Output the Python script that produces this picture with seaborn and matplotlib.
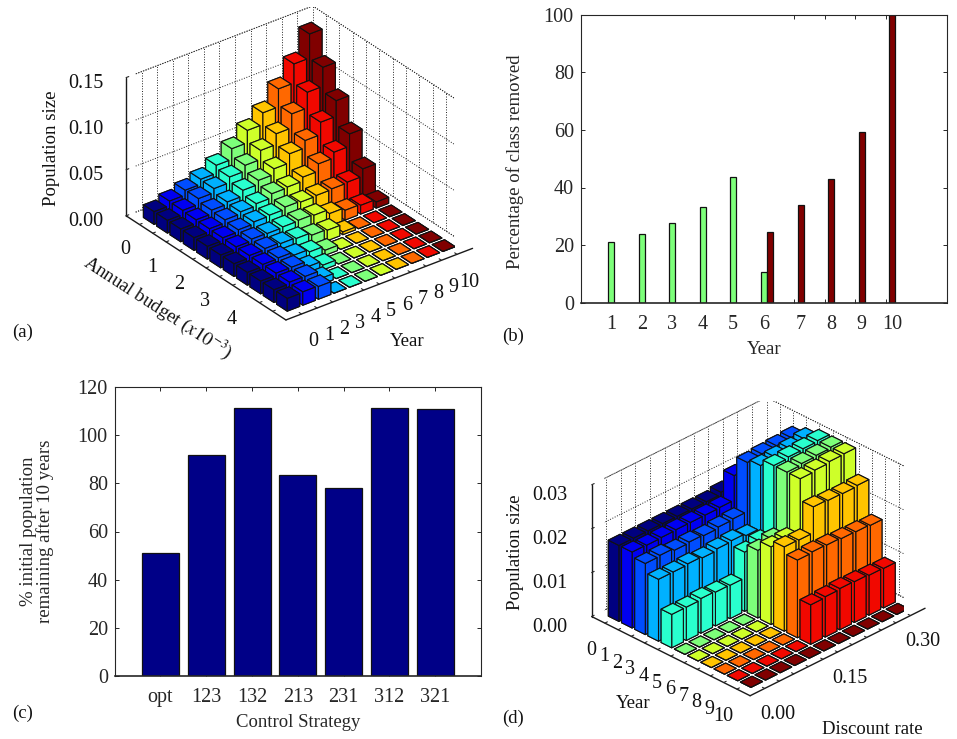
import numpy as np
import seaborn as sns
import matplotlib.pyplot as plt

W, H = 957, 739

# (a) population size, one row per year, one value per budget level
budget = [0, 0.5, 1, 1.5, 2, 2.5, 3, 3.5, 4, 4.5, 5]
budget_labels = ['0', '', '1', '', '2', '', '3', '', '4', '', '']
years = [0, 1, 2, 3, 4, 5, 6, 7, 8, 9, 10]
pop_a = [
    [.0137, .0137, .0137, .0137, .0137, .0137, .0137, .0137, .0137, .0137, .0137],
    [.0188, .0181, .0173, .0170, .0166, .0162, .0162, .0159, .0159, .0155, .0144],
    [.0242, .0245, .0213, .0202, .0188, .0181, .0173, .0166, .0159, .0152, .0137],
    [.0296, .0289, .0238, .0224, .0209, .0177, .0162, .0130, .0097, .0065, 0],
    [.0383, .0350, .0300, .0249, .0217, .0184, .0152, .0101, .0051, 0, 0],
    [.0498, .0412, .0343, .0292, .0242, .0191, .0123, .0054, 0, 0, 0],
    [.0632, .0509, .0404, .0300, .0231, .0181, .0112, 0, 0, 0, 0],
    [.0758, .0625, .0502, .0343, .0238, .0134, .0029, 0, 0, 0, 0],
    [.0953, .0776, .0581, .0422, .0245, .0105, 0, 0, 0, 0, 0],
    [.1159, .0946, .0715, .0484, .0253, .0094, 0, 0, 0, 0, 0],
    [.1419, .1152, .0884, .0617, .0332, .0065, 0, 0, 0, 0, 0],
]

# (b) percentage of class removed
green_years = [1, 2, 3, 4, 5, 6]
green_vals = [21, 23.8, 27.6, 33.4, 43.5, 10.8]
red_years = [6, 7, 8, 9, 10]
red_vals = [24.7, 34, 42.9, 59.4, 100]

# (c) strategies
strategies = ['opt', '123', '132', '213', '231', '312', '321']
remaining = [51, 92, 111.5, 83.5, 78, 111.5, 111]

# (d) population size, one row per year, one value per discount rate
discount = [0, .03, .06, .09, .12, .15, .18, .21, .24, .27, .30]
discount_labels = ['0.00', '', '', '', '', '0.15', '', '', '', '', '0.30']
pop_d = [
    [.0173, .0173, .0173, .0173, .0173, .0173, .0173, .0178, .0178, .0178, .0178],
    [.0173, .0172, .0173, .0174, .0174, .0174, .0175, .0231, .0231, .0231, .0231],
    [.0162, .0164, .0159, .0161, .0159, .0162, .0164, .0276, .0279, .0281, .0283],
    [.0141, .0141, .0143, .0140, .0144, .0146, .0141, .0284, .0287, .0290, .0295],
    [.0076, .0076, .0079, .0077, .0076, .0135, .0144, .0299, .0302, .0304, .0306],
    [0, 0, 0, 0, 0, .0154, .0163, .0299, .0302, .0304, .0306],
    [0, 0, 0, 0, 0, .0177, .0179, .0299, .0302, .0305, .0306],
    [0, 0, 0, 0, 0, .0192, .0191, .0250, .0248, .0247, .0249],
    [0, 0, 0, 0, 0, .0177, .0179, .0178, .0176, .0175, .0173],
    [0, 0, 0, 0, 0, .0090, .0092, .0094, .0093, .0091, .0090],
    [0, 0, 0, 0, 0, 0, 0, 0, 0, 0, 0],
]

sns.set_theme(style='ticks', rc={'xtick.direction': 'in', 'ytick.direction': 'in',
                                 'axes.linewidth': 0.8, 'mathtext.fontset': 'stix'})
plt.rcParams['font.family'] = ['Liberation Serif', 'DejaVu Serif']
TICK = 14.5
LABEL = 13.5
jet = plt.get_cmap('jet')(np.linspace(0, 1, 11))


def label(fig, x, y, s, rot=0, size=LABEL):
    fig.text(x / W, 1 - y / H, s, rotation=rot, rotation_mode='anchor' if rot else 'default',
             ha='center', va='center', fontsize=size, color='#111111')


def axes3d(fig, left, top, side, zoom, aspect, azim):
    rect = [left / W, 1 - (top + side) / H, side / W, side / H]
    ax = fig.add_axes(rect, projection='3d', computed_zorder=False)
    ax.patch.set_alpha(0)
    ax.set_proj_type('ortho')
    ax.view_init(elev=30, azim=azim)
    ax.set_box_aspect(aspect, zoom=zoom)
    return ax


# bars are painted back to front, x = row along the front left edge, y = along the front right edge
def bars3d(ax, xvals, yvals, xstep, table, colour_by_x):
    n = 1
    for i, xv in enumerate(xvals):
        for j in range(len(yvals) - 1, -1, -1):
            h = table[i][j] if colour_by_x else table[j][i]
            c = jet[i] if colour_by_x else jet[j]
            ax.bar3d(xv - 0.4 * xstep, yvals[j] - 0.4, 0, 0.8 * xstep, 0.8, h, color=c,
                     edgecolor='#111111', linewidth=0.8, shade=False, zorder=10 + n)
            n += 1


def style3d(ax, xt, xl, yt, yl, zt, zl, xlim, ylim, zlim, xstep, ystep, back_x=True):
    grid = dict(color='#222222', linestyle=':', linewidth=0.7, zorder=1)
    x0, x1 = xlim
    y0, y1 = ylim
    for z in zt:
        ax.plot([x0, x0], [y0, y1], [z, z], **grid)
        ax.plot([x0, x1], [y1, y1], [z, z], **grid)
    for y in list(yt) + [y1]:
        ax.plot([x0, x0], [y, y], list(zlim), **grid)
    for x in list(xt) + [x1]:
        ax.plot([x, x], [y1, y1], list(zlim), **grid)
    ax.plot([x0, x0], [y1, y0], [zlim[1], zlim[1]], **grid)
    ax.plot([x0, x1], [y1, y1], [zlim[0], zlim[0]], **grid)
    ax.plot([x0, x0], [y0, y1], [zlim[0], zlim[0]], **grid)
    ax.plot([x0, x1], [y1, y1], [zlim[1], zlim[1]], **grid)

    ax.set_xlim(*xlim)
    ax.set_ylim(*ylim)
    ax.set_zlim(*zlim)
    ax.set_xticks(xt, xl, fontsize=TICK, color='#111111')
    ax.set_yticks(yt, yl, fontsize=TICK, color='#111111')
    ax.set_zticks(zt, zl, fontsize=TICK, color='#111111')
    ax.grid(False)
    ax.zaxis.set_ticks_position('lower')
    for axis in (ax.xaxis, ax.yaxis, ax.zaxis):
        axis.set_pane_color((1, 1, 1, 0))
        axis.pane.set_edgecolor((1, 1, 1, 0))
        axis.line.set_color('k')
        axis.line.set_linewidth(1.0)
        axis._axinfo['tick']['inward_factor'] = 0.0
        axis._axinfo['tick']['outward_factor'] = 0.18
        axis._axinfo['tick']['linewidth'] = {True: 0.8, False: 0.8}


fig = plt.figure(figsize=(W / 100, H / 100), dpi=100)

# panel a
ax_a = axes3d(fig, 135, 7.3, 320, 1.174, (788, 706, 479), -37.5)
bars3d(ax_a, budget, years, 0.5, pop_a, False)
style3d(ax_a, budget, budget_labels, years, [str(y) for y in years],
        [0, .05, .10, .15], ['0.00', '0.05', '0.10', '0.15'],
        (-0.5, 5.5), (-1, 11), (0, 0.15), 0.5, 1)
ax_a.tick_params(axis='x', pad=1)
ax_a.tick_params(axis='y', pad=1)
ax_a.tick_params(axis='z', pad=6)
label(fig, 51, 148, 'Population size', 90)
label(fig, 158, 307, 'Annual budget ($x10^{-3}$)', -33)
label(fig, 407, 342, 'Year')
label(fig, 23, 332, '(a)')

# panel b
ax_b = fig.add_axes([580.7 / W, 1 - 302.7 / H, 366 / W, 288 / H])
sns.barplot(x=np.array(green_years, dtype=float), y=green_vals, native_scale=True, color=jet[5],
            saturation=1, width=0.2, edgecolor='#111111', linewidth=0.9, ax=ax_b)
sns.barplot(x=np.array(red_years, dtype=float) + 0.21, y=red_vals, native_scale=True, color=jet[10],
            saturation=1, width=0.2, edgecolor='#111111', linewidth=0.9, ax=ax_b)
ax_b.set_xlim(0, 12)
ax_b.set_ylim(0, 100)
ax_b.set_xticks(years[1:], minor=True)
ax_b.set_xticks(green_years + [y + 0.21 for y in red_years[1:]],
                [str(y) for y in years[1:]])
ax_b.tick_params(axis='x', which='major', length=0, labelsize=TICK, pad=9)
ax_b.tick_params(axis='x', which='minor', length=3, width=0.7, top=True)
ax_b.tick_params(axis='y', length=3, width=0.7, right=True, labelsize=TICK, pad=5)
ax_b.set_yticks([0, 20, 40, 60, 80, 100])
ax_b.set_xlabel('Year', fontsize=LABEL, va='center')
ax_b.xaxis.set_label_coords(0.5, -0.164)
ax_b.set_ylabel('Percentage of class removed', fontsize=LABEL, va='center')
ax_b.yaxis.set_label_coords(-0.18, 0.49)
ax_b.spines['bottom'].set_linewidth(1.2)
label(fig, 513, 336, '(b)')

# panel c
ax_c = fig.add_axes([114.7 / W, 1 - 675.7 / H, 366.3 / W, 288.4 / H])
sns.barplot(x=strategies, y=remaining, color=(0, 0, 0.53), saturation=1, width=0.81,
            edgecolor='#111111', linewidth=0.9, ax=ax_c)
ax_c.set_xlim(-1, 7)
ax_c.set_ylim(0, 120)
ax_c.set_yticks([0, 20, 40, 60, 80, 100, 120])
ax_c.tick_params(axis='x', length=3, width=0.7, top=True, labelsize=TICK, pad=9)
ax_c.tick_params(axis='y', length=3, width=0.7, right=True, labelsize=TICK, pad=5)
ax_c.set_xlabel('Control Strategy', fontsize=LABEL, va='center')
ax_c.xaxis.set_label_coords(0.5, -0.164)
ax_c.set_ylabel('% initial population\nremaining after 10 years', fontsize=LABEL, va='center',
                linespacing=1.0)
ax_c.yaxis.set_label_coords(-0.212, 0.5)
ax_c.spines['bottom'].set_linewidth(1.2)
label(fig, 23, 713, '(c)')

# panel d
ax_d = axes3d(fig, 604.3, 400.6, 300, 1.187, (672, 742, 456), -45)
bars3d(ax_d, years, [d / 0.03 for d in discount], 1, pop_d, True)
style3d(ax_d, years, [str(y) for y in years], [d / 0.03 for d in discount], discount_labels,
        [0, .01, .02, .03], ['0.00', '0.01', '0.02', '0.03'],
        (-1, 11), (-1, 11), (0, 0.03), 1, 1)
ax_d.tick_params(axis='x', pad=1)
ax_d.tick_params(axis='y', pad=1)
ax_d.tick_params(axis='z', pad=6)
label(fig, 515, 552, 'Population size', 90)
label(fig, 632.7, 703, 'Year')
label(fig, 872, 729, 'Discount rate')
label(fig, 513, 718, '(d)')

fig.savefig('out.png', dpi=100)
